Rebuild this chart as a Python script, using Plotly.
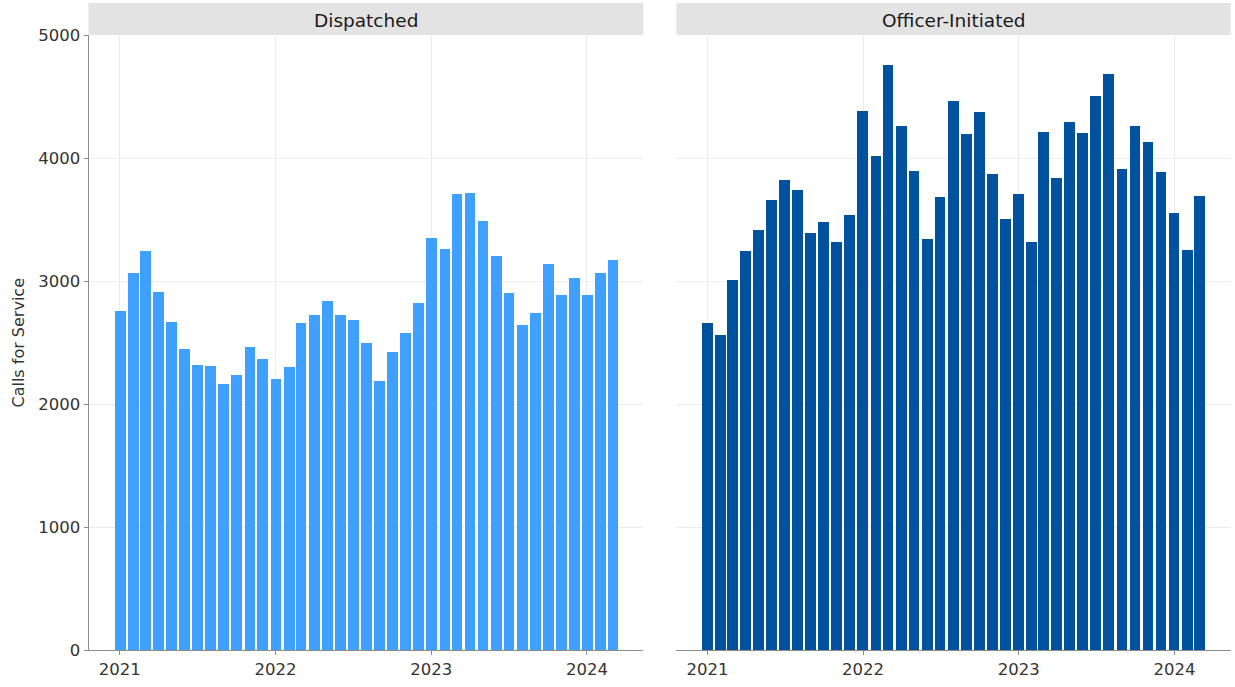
import plotly.graph_objects as go

months = [f"{y}-{m:02d}-01" for y in (2021, 2022, 2023, 2024) for m in range(1, 13)][:39]

dispatched = [2756, 3065, 3241, 2908, 2669, 2450, 2320, 2309, 2160, 2238, 2461, 2363,
              2206, 2301, 2659, 2721, 2835, 2721, 2680, 2493, 2187, 2420, 2577, 2824,
              3347, 3260, 3707, 3718, 3485, 3200, 2900, 2645, 2740, 3138, 2886, 3022,
              2886, 3062, 3168]
officer = [2659, 2564, 3008, 3241, 3415, 3656, 3819, 3737, 3393, 3480, 3317, 3534,
           4382, 4013, 4756, 4263, 3892, 3344, 3683, 4461, 4198, 4372, 3867, 3501,
           3705, 3320, 4209, 3841, 4293, 4206, 4504, 4686, 3911, 4258, 4133, 3886,
           3556, 3249, 3691]
panels = ["Dispatched", "Officer-Initiated"]
colors = ["#3FA0FF", "#00529F"]
year_ticks = ["2021-01-01", "2022-01-01", "2023-01-01", "2024-01-01"]
year_labels = ["2021", "2022", "2023", "2024"]
y_ticks = [0, 1000, 2000, 3000, 4000, 5000]

W, H = 1235, 687
bar_w = 25.2 * 86400000

fig = go.Figure()
fig.add_trace(go.Bar(x=months, y=dispatched, width=bar_w, marker=dict(color=colors[0], line=dict(width=0)),
                     xaxis="x", yaxis="y", name=panels[0], showlegend=False))
fig.add_trace(go.Bar(x=months, y=officer, width=bar_w, marker=dict(color=colors[1], line=dict(width=0)),
                     xaxis="x2", yaxis="y2", name=panels[1], showlegend=False))

dom1 = [88.5 / W, 643.3 / W]
dom2 = [676.3 / W, 1230.7 / W]
ydom = [1 - 650 / H, 1 - 35 / H]
font = "DejaVu Sans, Verdana, sans-serif"
xr = ["2020-10-20", "2024-05-12"]

common_x = dict(type="date", range=xr, tickvals=year_ticks, ticktext=year_labels,
                showgrid=True, gridcolor="#EBEBEB", gridwidth=1, zeroline=False,
                showline=True, linecolor="#8C8C8C", linewidth=1,
                ticks="outside", ticklen=4, tickcolor="#8C8C8C",
                tickfont=dict(family=font, size=16.5, color="#333333"), automargin=False)

fig.update_layout(
    width=W, height=H,
    margin=dict(l=0, r=0, t=0, b=0),
    paper_bgcolor="white", plot_bgcolor="white",
    bargap=0,
    xaxis=dict(domain=dom1, anchor="y", **common_x),
    xaxis2=dict(domain=dom2, anchor="y2", **common_x),
    yaxis=dict(domain=ydom, anchor="x", range=[0, 5000], tickvals=y_ticks,
               showgrid=True, gridcolor="#EBEBEB", zeroline=False,
               showline=True, linecolor="#8C8C8C", linewidth=1,
               ticks="outside", ticklen=4, tickcolor="#8C8C8C",
               tickfont=dict(family=font, size=16.5, color="#333333"),
               automargin=False),
    yaxis2=dict(domain=ydom, anchor="x2", range=[0, 5000], tickvals=y_ticks,
                showgrid=True, gridcolor="#EBEBEB", zeroline=False,
                showline=False, showticklabels=False, ticks="", automargin=False),
)

for dom, name in zip([dom1, dom2], panels):
    fig.add_shape(type="rect", xref="paper", yref="paper", x0=dom[0], x1=dom[1],
                  y0=1 - 35 / H, y1=1 - 3 / H, fillcolor="#E3E3E3", line=dict(width=0), layer="below")
    fig.add_annotation(xref="paper", yref="paper", x=(dom[0] + dom[1]) / 2, y=1 - 20 / H,
                       text=name, showarrow=False, xanchor="center", yanchor="middle",
                       font=dict(family=font, size=18.5, color="#1A1A1A"))

fig.add_annotation(xref="paper", yref="paper", x=18 / W, y=(ydom[0] + ydom[1]) / 2,
                   text="Calls for Service", showarrow=False, textangle=-90,
                   xanchor="center", yanchor="middle",
                   font=dict(family=font, size=16, color="#333333"))

fig.write_html("out.html", config={"displayModeBar": False},
               post_script="document.body.style.margin='0px';document.body.style.padding='0px';")
